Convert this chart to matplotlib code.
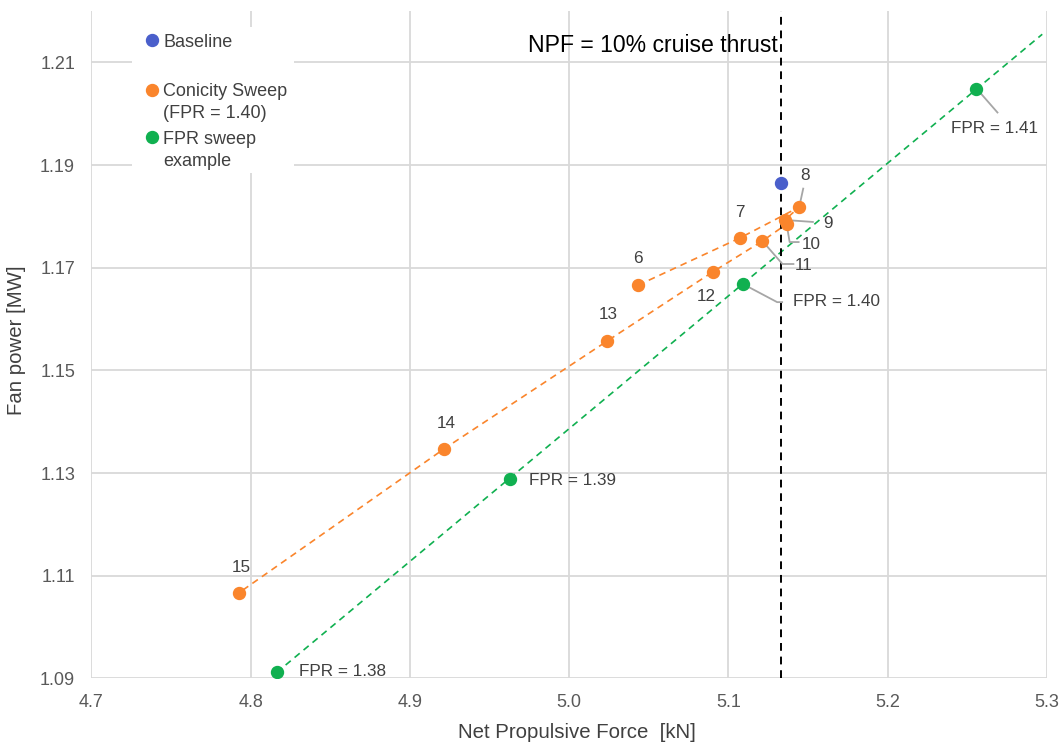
import numpy as np
import matplotlib.pyplot as plt
from matplotlib.patches import Rectangle

plt.rcParams['font.family'] = ['Liberation Sans', 'DejaVu Sans']

# baseline
base_x = 5.1329
base_y = 1.1865

# conicity sweep (FPR = 1.40)
con_lab = ["6", "7", "8", "9", "10", "11", "12", "13", "14", "15"]
con_x = [5.0433, 5.1072, 5.1444, 5.1354, 5.1365, 5.1213, 5.0902, 5.0237, 4.9213, 4.7927]
con_y = [1.1666, 1.1758, 1.1818, 1.1793, 1.1785, 1.1752, 1.1692, 1.1557, 1.1347, 1.1067]

# FPR sweep
fpr_lab = ["FPR = 1.38", "FPR = 1.39", "FPR = 1.40", "FPR = 1.41"]
fpr_x = [4.8163, 4.9628, 5.1092, 5.2557]
fpr_y = [1.0913, 1.1289, 1.1668, 1.2049]

c_blue = '#4A5FCB'
c_orange = '#FA852C'
c_green = '#10B050'
c_text = '#404040'
c_lead = '#A6A6A6'

fig = plt.figure(figsize=(10.62, 7.46), dpi=100)
ax = fig.add_axes([0.0861, 0.0905, 0.8998, 0.8948])

ax.set_xlim(4.7, 5.3)
ax.set_ylim(1.09, 1.22)
ax.set_xticks(np.arange(4.7, 5.301, 0.1))
ax.set_yticks(np.arange(1.09, 1.2101, 0.02))
ax.set_xticklabels(["%.1f" % v for v in np.arange(4.7, 5.301, 0.1)])
ax.set_yticklabels(["%.2f" % v for v in np.arange(1.09, 1.2101, 0.02)])
ax.tick_params(axis='both', length=0, labelsize=13, labelcolor='#595959')
ax.tick_params(axis='x', pad=11.5)
ax.tick_params(axis='y', pad=11.8)
for s in ax.spines.values():
    s.set_visible(False)
ax.grid(True, color='#D9D9D9', lw=1.3)
ax.set_axisbelow(True)

ax.set_xlabel("Net Propulsive Force  [kN]", fontsize=14.7, color=c_text, va='center')
ax.xaxis.set_label_coords(0.508, -0.0816)
ax.set_ylabel("Fan power [MW]", fontsize=14.7, color=c_text, va='center')
ax.yaxis.set_label_coords(-0.0779, 0.507)

# lines
ax.plot(con_x, con_y, color=c_orange, lw=1.2, ls=(0, (4, 3)), zorder=2)
k = np.polyfit(fpr_x, fpr_y, 1)
xt = np.array([min(fpr_x), 5.297])
ax.plot(xt, np.polyval(k, xt), color=c_green, lw=1.2, ls=(0, (4, 3)), zorder=2)
ax.axvline(base_x, color='black', lw=1.4, ls=(0, (4, 3)), zorder=2)

# markers
ax.plot(con_x, con_y, 'o', color=c_orange, ms=8.6, zorder=4)
ax.plot(fpr_x, fpr_y, 'o', color=c_green, ms=8.6, zorder=4)
ax.plot([base_x], [base_y], 'o', color=c_blue, ms=8.6, zorder=4)

ax.text(0.5872, 0.952, "NPF = 10% cruise thrust", transform=ax.transAxes, fontsize=16.6,
        color='black', ha='center', va='center_baseline')


def leader(x, y, pts):
    # gray leader line, vertices as pixel offsets from the point
    px, py = ax.transData.transform((x, y))
    xs = [px + p[0] for p in pts]
    ys = [py + p[1] for p in pts]
    ax.plot(xs, ys, color=c_lead, lw=1.3, transform=None, zorder=3)


# conicity labels: offset, alignment, leader
con_off = {
    "6": ((0, 28), 'center', None),
    "7": ((0, 27), 'center', None),
    "8": ((6, 33), 'center', [(0, 0), (4, 18.5)]),
    "9": ((38, -2), 'left', [(0, 0), (28, -2)]),
    "10": ((15, -19), 'left', [(0, 0), (3, -18), (12, -18)]),
    "11": ((32.5, -23), 'left', [(0, 0), (20, -23), (31, -23)]),
    "12": ((-7, -23), 'center', None),
    "13": ((1, 28), 'center', None),
    "14": ((2, 26.5), 'center', None),
    "15": ((2, 27), 'center', None),
}
for lab, x, y in zip(con_lab, con_x, con_y):
    off, ha, pts = con_off[lab]
    ax.annotate(lab, (x, y), xytext=off, textcoords='offset pixels',
                ha=ha, va='center_baseline', fontsize=12.3, color=c_text)
    if pts:
        leader(x, y, pts)

fpr_off = [(22, 2), (19, 0), (50, -16), (-25, -38)]
fpr_pts = [None, None, [(0, 0), (34, -18), (39, -18)], [(0, 0), (21, -24)]]
for lab, x, y, off, pts in zip(fpr_lab, fpr_x, fpr_y, fpr_off, fpr_pts):
    ax.annotate(lab, (x, y), xytext=off, textcoords='offset pixels',
                ha='left', va='center_baseline', fontsize=12.3, color=c_text)
    if pts:
        leader(x, y, pts)

# legend
ax.add_patch(Rectangle((0.0425, 0.7573), 0.1694, 0.2187, transform=ax.transAxes,
                       facecolor='white', edgecolor='none', zorder=3))
leg = [(c_blue, ["Baseline"], 0.9560),
       (c_orange, ["Conicity Sweep", "(FPR = 1.40)"], 0.8822),
       (c_green, ["FPR sweep", "example"], 0.8105)]
for col, lines, yy in leg:
    ax.plot([0.0635], [yy], 'o', color=col, ms=8.6, transform=ax.transAxes,
            zorder=4, clip_on=False)
    for i, t in enumerate(lines):
        ax.text(0.0749, yy - i * 0.0325, t, transform=ax.transAxes, fontsize=13,
                color=c_text, ha='left', va='center_baseline', zorder=4)

fig.savefig('out.png', dpi=100)
